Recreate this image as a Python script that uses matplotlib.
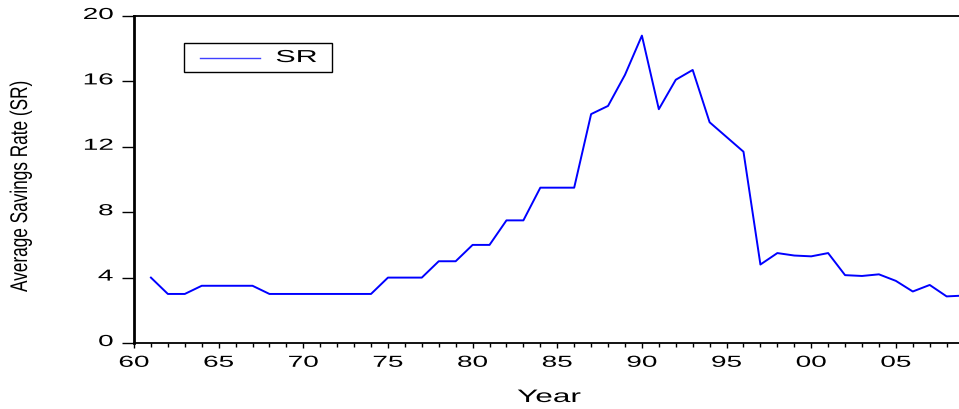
import matplotlib
matplotlib.use("Agg")
import matplotlib.pyplot as plt
from matplotlib import patheffects
from matplotlib.patches import Rectangle
from matplotlib.transforms import Affine2D
from matplotlib.ticker import FixedLocator, MultipleLocator, FuncFormatter

plt.rcParams["font.family"] = ["Liberation Sans", "DejaVu Sans"]

# Average savings rate, 1961-2009
years = list(range(1961, 2010))
sr = [4.0, 3.0, 3.0, 3.5, 3.5, 3.5, 3.5, 3.0, 3.0, 3.0,
      3.0, 3.0, 3.0, 3.0, 4.0, 4.0, 4.0, 5.0, 5.0, 6.0,
      6.0, 7.5, 7.5, 9.5, 9.5, 9.5, 14.0, 14.5, 16.4, 18.8,
      14.3, 16.1, 16.7, 13.5, 12.6, 11.7, 4.8, 5.5, 5.35, 5.3,
      5.5, 4.15, 4.1, 4.2, 3.8, 3.15, 3.55, 2.85, 2.9]
y_ticks = [0, 4, 8, 12, 16, 20]
x_major = [1960, 1965, 1970, 1975, 1980, 1985, 1990, 1995, 2000, 2005]


class Stretch(patheffects.AbstractPathEffect):
    """Scale glyphs (the reference image is stretched sideways)."""

    def __init__(self, sx=1.0, ha="left", sy=1.0, dy=0.0):
        super().__init__()
        self.sx, self.sy, self.ha, self.dy = sx, sy, ha, dy

    def draw_path(self, renderer, gc, tpath, affine, rgbFace=None):
        ext = tpath.get_extents()
        cx = {"left": ext.x0, "center": (ext.x0 + ext.x1) / 2,
              "right": ext.x1}[self.ha]
        pre = (Affine2D().translate(-cx, 0).scale(self.sx, self.sy)
               .translate(cx, 0))
        post = Affine2D().translate(0, self.dy)
        renderer.draw_path(gc, tpath, pre + affine + post, rgbFace)


SX = 1.75
W, H = 959, 410
fig = plt.figure(figsize=(W / 100, H / 100), dpi=100)
# axes runs slightly past the right edge, as in the reference
ax_w = 49 * 16.93
left, bottom, top = 134 / W, 1 - 344 / H, 1 - 17 / H
ax = fig.add_axes([left, bottom, ax_w / W, top - bottom])

ax.plot(years, sr, color="#0000ff", lw=1.4)

ax.set_xlim(1960, 2009)
ax.set_ylim(0, 20)
ax.yaxis.set_major_locator(FixedLocator(y_ticks))
ax.xaxis.set_major_locator(FixedLocator(x_major))
ax.xaxis.set_minor_locator(MultipleLocator(1))
ax.xaxis.set_major_formatter(FuncFormatter(lambda v, p: f"{int(v) % 100:02d}"))

ax.tick_params(axis="y", direction="out", length=9, width=1.0,
               labelsize=11.5, pad=6)
ax.tick_params(axis="x", which="major", direction="out", length=3.5,
               width=1.0, labelsize=11.5, pad=5)
ax.tick_params(axis="x", which="minor", direction="out", length=3.0, width=1.0)
for lab in ax.get_xticklabels():
    lab.set_path_effects([Stretch(SX, "center")])
for lab in ax.get_yticklabels():
    lab.set_path_effects([Stretch(SX, "right", dy=3)])

ax.spines["right"].set_visible(False)
ax.spines["left"].set_linewidth(2.0)
for s in ("bottom", "top"):
    ax.spines[s].set_linewidth(1.3)

ax.set_xlabel("Year", fontsize=13)
ax.xaxis.label.set_va("baseline")
ax.xaxis.label.set_path_effects([Stretch(SX, "center")])
ax.xaxis.set_label_coords((549 - 134) / ax_w, (344 - 403) / 327)
ax.set_ylabel("Average Savings Rate (SR)", fontsize=12.4)
ax.yaxis.label.set_path_effects([Stretch(1.0, "center", sy=1.4)])
ax.yaxis.set_label_coords((30 - 134) / ax_w, 0.48)

# legend box, drawn by hand so the stretched label fits like the original
ax.add_patch(Rectangle(((184 - 134) / ax_w, (344 - 73) / 327), 148 / ax_w,
                       29 / 327, transform=ax.transAxes, fill=False,
                       ec="black", lw=1.0, zorder=5))
ax.plot([(200 - 134) / ax_w, (260 - 134) / ax_w], [0.873, 0.873],
        transform=ax.transAxes, color="#4040ff", lw=1.0)
ax.text((276 - 134) / ax_w, 0.873, "SR", transform=ax.transAxes,
        fontsize=12.5, va="center", ha="left",
        path_effects=[Stretch(SX, "left")])

fig.savefig("out.png", dpi=100)
